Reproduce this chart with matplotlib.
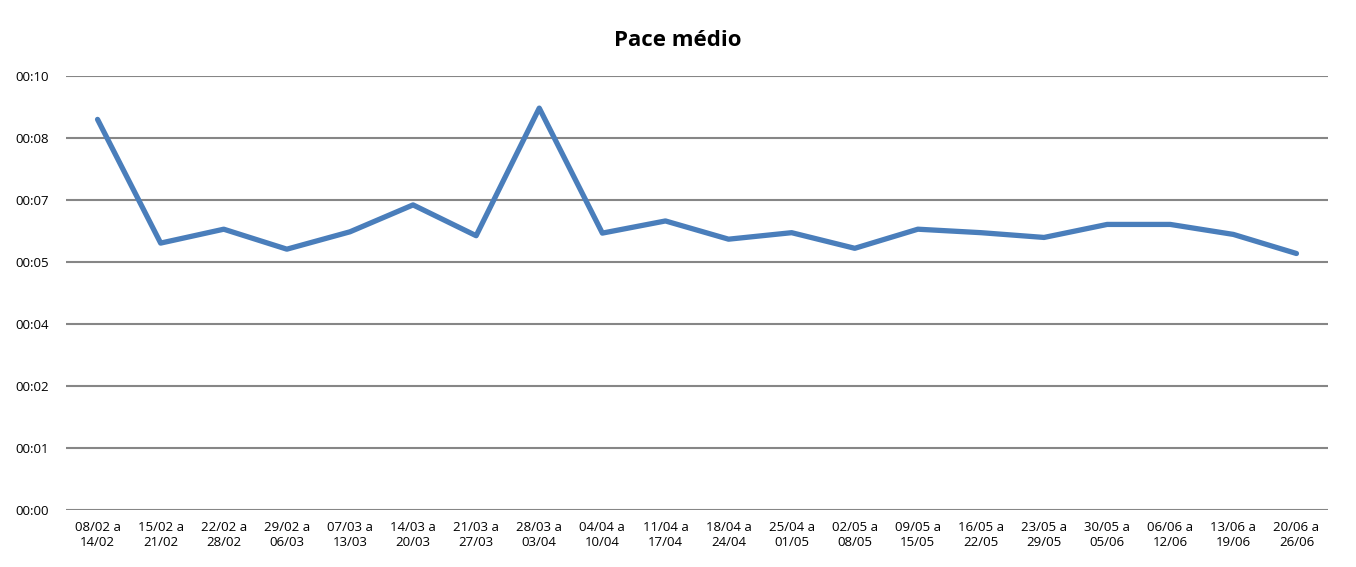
import numpy as np
import matplotlib.pyplot as plt
from matplotlib.ticker import FuncFormatter

plt.rcParams['font.family'] = ['Open Sans', 'DejaVu Sans']

semanas = ['08/02 a\n14/02', '15/02 a\n21/02', '22/02 a\n28/02', '29/02 a\n06/03',
           '07/03 a\n13/03', '14/03 a\n20/03', '21/03 a\n27/03', '28/03 a\n03/04',
           '04/04 a\n10/04', '11/04 a\n17/04', '18/04 a\n24/04', '25/04 a\n01/05',
           '02/05 a\n08/05', '09/05 a\n15/05', '16/05 a\n22/05', '23/05 a\n29/05',
           '30/05 a\n05/06', '06/06 a\n12/06', '13/06 a\n19/06', '20/06 a\n26/06']

# pace medio em minutos por km
pace = [9.00, 6.15, 6.47, 6.01, 6.41, 7.03, 6.32, 9.26, 6.38, 6.66,
        6.24, 6.39, 6.03, 6.47, 6.39, 6.28, 6.58, 6.58, 6.35, 5.91]

y_max = 10
n_div = 7


def fmt_hhmm(v, pos):
    # formato de hora do excel, truncado
    tot = int(v + 1e-9)
    return '%02d:%02d' % (tot // 60, tot % 60)


fig = plt.figure(figsize=(13.56, 5.67), dpi=100)
ax = fig.add_axes([66 / 1356, 1 - 510 / 567, 1262 / 1356, 434 / 567])

x = np.arange(len(semanas))
ax.plot(x, pace, color='#4A7EBB', lw=3.8, solid_capstyle='round', zorder=3)

ax.set_xlim(-0.5, len(semanas) - 0.5)
ax.set_ylim(0, y_max)
ax.set_yticks(np.linspace(0, y_max, n_div + 1))
ax.yaxis.set_major_formatter(FuncFormatter(fmt_hhmm))
ax.set_xticks(x)
ax.set_xticklabels(semanas, fontsize=9.5)
ax.tick_params(axis='y', labelsize=9.5, length=0, pad=12)
ax.tick_params(axis='x', length=0, pad=8)

ax.yaxis.grid(True, color='#868686', lw=1.5)
ax.set_axisbelow(True)
for s in ax.spines.values():
    s.set_visible(False)

fig.text(0.5, 1 - 40 / 567, 'Pace médio', ha='center', va='center',
         fontsize=16, fontweight='bold')

fig.savefig('out.png', dpi=100)
